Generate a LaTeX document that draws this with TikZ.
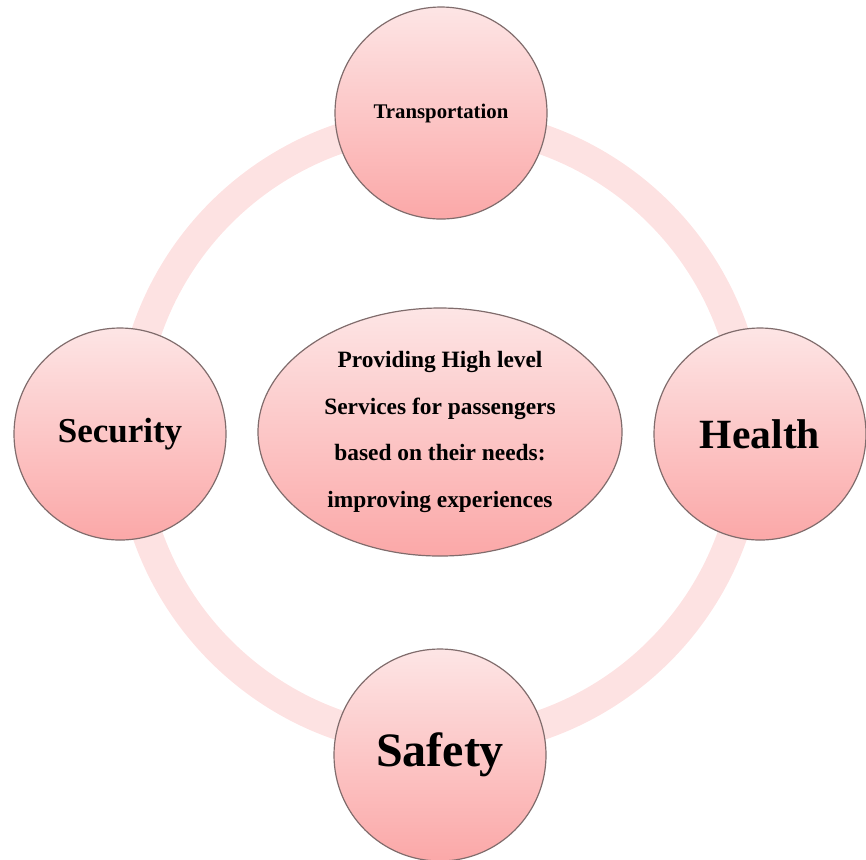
\documentclass[tikz,border=0pt]{standalone}
\usepackage{fontspec}
\setmainfont{Liberation Serif}
\usetikzlibrary{shapes.geometric, positioning}
\definecolor{ringPink}{RGB}{253,226,226}
\definecolor{topPink}{RGB}{253,229,229}
\definecolor{midPink}{RGB}{252,204,204}
\definecolor{bottomPink}{RGB}{251,168,168}
\definecolor{rimGray}{RGB}{128,108,108}
\tikzstyle{boxTopic} = [circle, minimum size=106pt, inner sep=0pt, draw=rimGray, line width=0.6pt, top color=topPink, middle color=midPink, bottom color=bottomPink, align=center]
\tikzstyle{boxCore} = [ellipse, minimum width=182pt, minimum height=124pt, inner sep=0pt, draw=rimGray, line width=0.6pt, top color=topPink, middle color=midPink, bottom color=bottomPink, align=center]
\tikzstyle{ring} = [draw=ringPink, line width=15pt]

\begin{document}
\begin{tikzpicture}[x=0.5pt, y=-0.5pt]
\useasboundingbox (0,0) rectangle (866,859);

\coordinate (hub) at (440,432);
\draw [ring] (hub) circle [radius=155pt];

\node (core) [boxCore, font={\fontsize{11.7}{23.2}\selectfont\bfseries}] at (hub) {
Providing High level\\
Services for passengers\\
based on their needs:\\
improving experiences};

\node (transport) [boxTopic, font={\fontsize{10.4}{12}\selectfont\bfseries}] at (441,113) {Transportation};
\node (security) [boxTopic, font={\fontsize{17.5}{20}\selectfont\bfseries}] at (120,434) {Security};
\node (health) [boxTopic, font={\fontsize{20.8}{24}\selectfont\bfseries}] at (760,434) {Health};
\node (safety) [boxTopic, font={\fontsize{24}{28}\selectfont\bfseries}] at (440,755) {Safety};

\end{tikzpicture}
\end{document}
